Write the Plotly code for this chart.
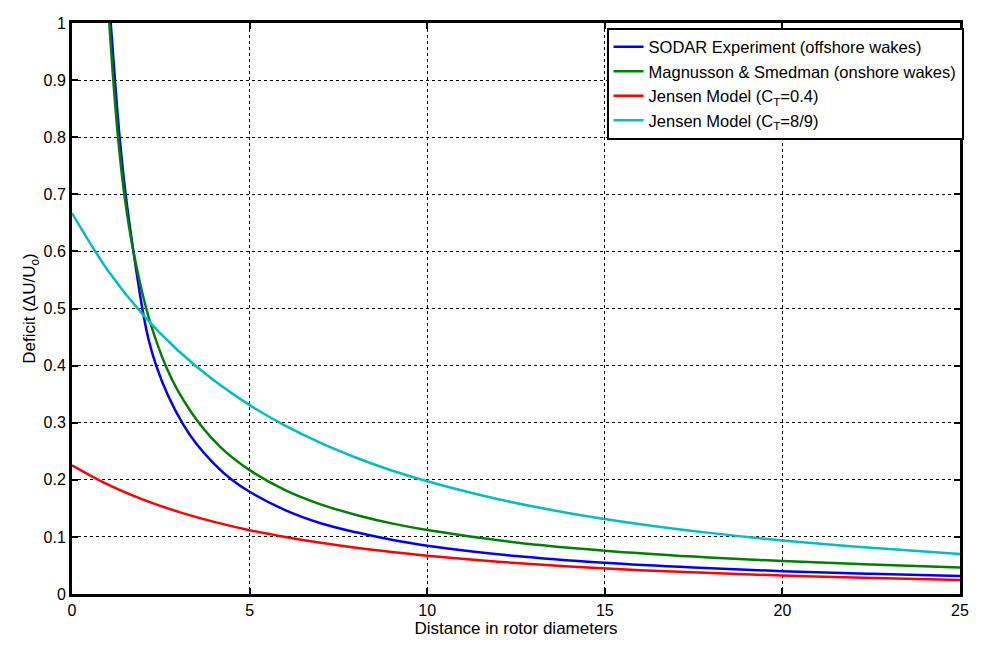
import plotly.graph_objects as go

# --- data ---
sodar_x = [1.09, 1.21, 1.34, 1.51, 1.73, 1.98, 2.15, 2.37, 2.7, 3.12, 3.5, 4.0, 4.5, 5.0, 6.0, 7.0, 8.0, 9.0, 10.0, 12.5, 15.0, 17.5, 20.0, 22.5, 25.0]
sodar_y = [1.0, 0.9, 0.8, 0.7, 0.6, 0.5, 0.447, 0.4, 0.348, 0.298, 0.263, 0.228, 0.2, 0.179, 0.147, 0.124, 0.108, 0.095, 0.0846, 0.0665, 0.0546, 0.0463, 0.040, 0.0353, 0.0314]

magn_x = [1.05, 1.18, 1.31, 1.48, 1.72, 2.09, 2.4, 2.65, 3.0, 3.63, 4.2, 5.0, 6.0, 7.0, 8.0, 9.0, 10.0, 12.5, 15.0, 17.5, 20.0, 22.5, 25.0]
magn_y = [1.0, 0.885, 0.79, 0.696, 0.603, 0.5, 0.438, 0.398, 0.354, 0.295, 0.256, 0.217, 0.182, 0.157, 0.1385, 0.1237, 0.112, 0.0903, 0.0759, 0.0655, 0.0576, 0.0515, 0.0466]

jensen_x = [0, 1, 2, 3, 4, 5, 6, 7, 8, 9, 10, 12, 14, 16, 18, 20, 22, 25]
jensen04_y = [0.2254, 0.1918, 0.1652, 0.1438, 0.1263, 0.1118, 0.0998, 0.0896, 0.0809, 0.0735, 0.0670, 0.0565, 0.0483, 0.0418, 0.0366, 0.0324, 0.0289, 0.0246]
jensen89_y = [0.667, 0.5675, 0.4889, 0.4255, 0.3737, 0.3308, 0.2949, 0.2645, 0.2386, 0.2163, 0.1975, 0.1660, 0.1415, 0.1222, 0.1066, 0.0938, 0.0832, 0.0700]

x_ticks = [0, 5, 10, 15, 20, 25]
y_ticks = [0, 0.1, 0.2, 0.3, 0.4, 0.5, 0.6, 0.7, 0.8, 0.9, 1]
y_tick_text = ["0", "0.1", "0.2", "0.3", "0.4", "0.5", "0.6", "0.7", "0.8", "0.9", "1"]

names = [
    "SODAR Experiment (offshore wakes)",
    "Magnusson & Smedman (onshore wakes)",
    "Jensen Model (C<sub>T</sub>=0.4)",
    "Jensen Model (C<sub>T</sub>=8/9)",
]
colors = ["#0000FF", "#008000", "#FF0000", "#00BFBF"]

FONT = "Liberation Sans, Arial, Helvetica, sans-serif"

fig = go.Figure()
series = [(sodar_x, sodar_y), (magn_x, magn_y), (jensen_x, jensen04_y), (jensen_x, jensen89_y)]
for (xs, ys), nm, c in zip(series, names, colors):
    fig.add_trace(go.Scatter(x=xs, y=ys, mode="lines", name=nm,
                             line=dict(color=c, width=2.5, shape="spline", smoothing=1.0),
                             cliponaxis=True))

axis_common = dict(
    showline=True, linecolor="black", linewidth=3, mirror="ticks",
    ticks="inside", ticklen=6, tickwidth=2, tickcolor="black",
    showgrid=True, gridcolor="black", gridwidth=1, griddash="dot",
    zeroline=False,
    tickfont=dict(family=FONT, size=16, color="black"),
)

fig.update_xaxes(range=[0, 25], tickvals=x_ticks, ticktext=[str(v) for v in x_ticks],
                 title=dict(text="Distance in rotor diameters", font=dict(family=FONT, size=17, color="black"),
                            standoff=0),
                 **axis_common)
fig.update_yaxes(range=[0, 1], tickvals=y_ticks, ticktext=y_tick_text,
                 title=dict(text="Deficit (\u0394U/U<sub>o</sub>)", font=dict(family=FONT, size=17, color="black"),
                            standoff=4),
                 **axis_common)

fig.update_layout(
    width=981, height=645,
    margin=dict(l=72, r=16, t=23, b=51),
    plot_bgcolor="white", paper_bgcolor="white",
    font=dict(family=FONT, size=16, color="black"),
    legend=dict(x=1.004, y=0.992, xanchor="right", yanchor="top",
                bgcolor="white", bordercolor="black", borderwidth=2,
                font=dict(family=FONT, size=16.5, color="black"),
                itemwidth=30, tracegroupgap=0),
    showlegend=True,
)

fig.write_html("out.html")
